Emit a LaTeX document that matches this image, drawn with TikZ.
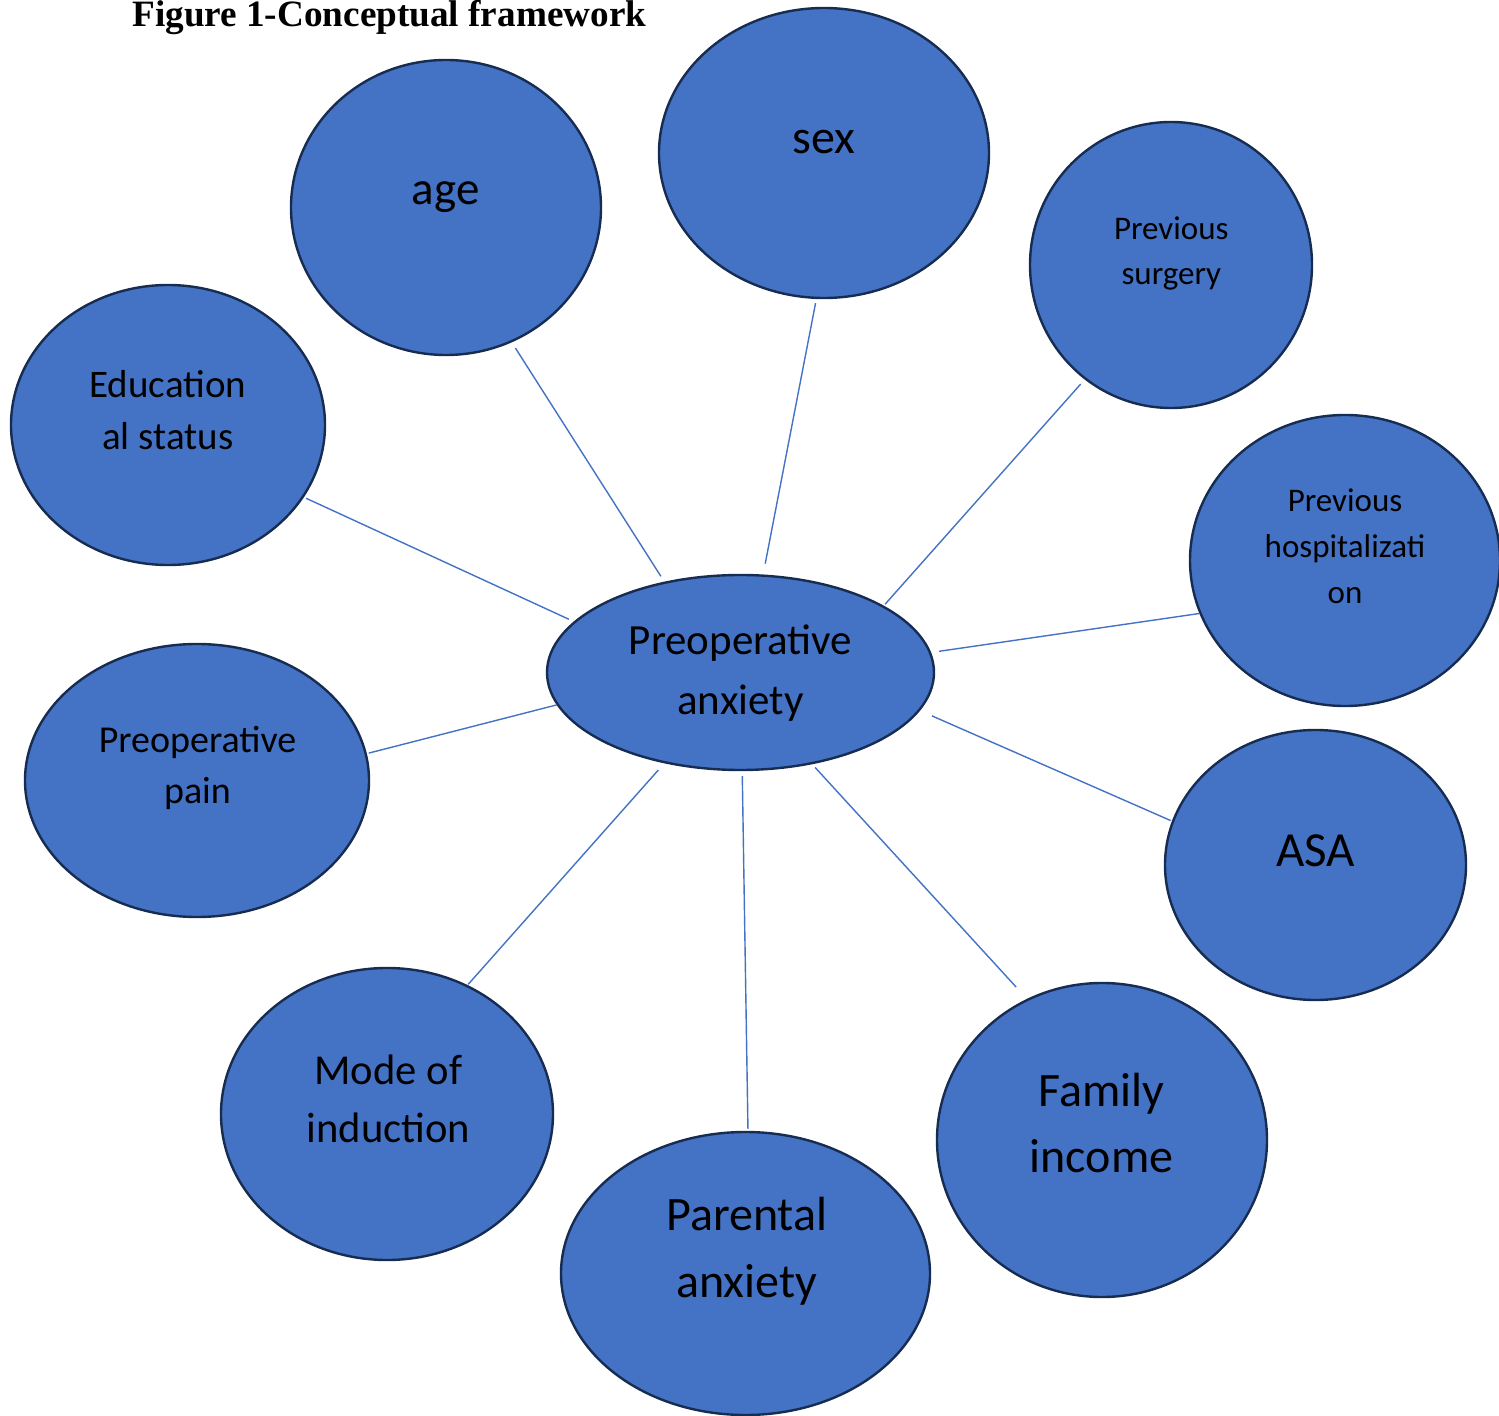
\documentclass[tikz,border=0pt]{standalone}
\usepackage{fontspec}
\setmainfont{Carlito}
\newfontfamily\titlefont{Liberation Serif}
\usetikzlibrary{shapes.geometric}
\definecolor{fillblue}{HTML}{4472C4}
\definecolor{edgeblue}{HTML}{172C51}
\definecolor{lineblue}{HTML}{4472C4}
\tikzset{
  bub/.style={ellipse, draw=edgeblue, fill=fillblue, line width=1.2pt, inner sep=0pt},
  conn/.style={draw=lineblue, line width=0.7pt},
  lbl/.style={anchor=base, inner sep=0pt, text=black},
}
\newcommand{\mylines}[3]{\fontsize{#1}{#2}\selectfont\begin{tabular}[t]{@{}c@{}}#3\end{tabular}}
\begin{document}
\begin{tikzpicture}[x=0.5pt,y=-0.5pt]
\clip (0,0) rectangle (1499,1416);
\fill[white] (0,0) rectangle (1499,1416);
% title
\node[anchor=base west, inner sep=0pt, font=\titlefont\bfseries\fontsize{18.6}{22}\selectfont] (title) at (132,27) {Figure 1-Conceptual framework};
% ellipses
\node[bub, minimum width=387pt/2, minimum height=195pt/2] (c) at (740.5,672.5) {};
\node[bub, minimum width=155pt, minimum height=147.5pt] (age) at (446,207.5) {};
\node[bub, minimum width=165pt, minimum height=145pt] (sex) at (824,153) {};
\node[bub, minimum width=141pt, minimum height=143pt] (surg) at (1171,265) {};
\node[bub, minimum width=155pt, minimum height=145.5pt] (hosp) at (1345,560.5) {};
\node[bub, minimum width=150.5pt, minimum height=135pt] (asa) at (1315.5,865) {};
\node[bub, minimum width=165pt, minimum height=157pt] (fam) at (1102,1140) {};
\node[bub, minimum width=184.5pt, minimum height=141.5pt] (par) at (745.5,1273.5) {};
\node[bub, minimum width=166pt, minimum height=146pt] (mode) at (387,1114) {};
\node[bub, minimum width=172pt, minimum height=136.5pt] (pain) at (197,780.5) {};
\node[bub, minimum width=157pt, minimum height=140pt] (edu) at (168,425) {};
% labels
\node[lbl] (t-c) at (740.5,655) {\mylines{21.5}{30}{Preoperative\\anxiety}};
\node[lbl] (t-age) at (445.8,205) {\mylines{23.5}{30}{age}};
\node[lbl] (t-sex) at (824.3,154) {\mylines{24}{30}{sex}};
\node[lbl] (t-surg) at (1171.3,240) {\mylines{16.5}{22.5}{Previous\\surgery}};
\node[lbl] (t-hosp) at (1345,511.7) {\mylines{16.5}{23}{Previous\\hospitalizati\\on}};
\node[lbl] (t-asa) at (1315.5,866) {\mylines{24.5}{30}{ASA}};
\node[lbl] (t-fam) at (1101.5,1106) {\mylines{24}{33}{Family\\income}};
\node[lbl] (t-par) at (746.7,1230) {\mylines{24}{33.5}{Parental\\anxiety}};
\node[lbl] (t-mode) at (388.3,1084) {\mylines{21.3}{29}{Mode of\\induction}};
\node[lbl] (t-pain) at (197.5,753) {\mylines{19}{25.5}{Preoperative\\pain}};
\node[lbl] (t-edu) at (167.8,397.3) {\mylines{19.5}{26}{Education\\al status}};
% connectors
\draw[conn, shorten <=3.4pt, shorten >=3.2pt] (age.-64.5) -- (c.130.4);
\draw[conn, shorten <=2.1pt, shorten >=5.5pt] (sex.-93.5) -- (c.77.2);
\draw[conn, shorten <=3pt, shorten >=1pt] (surg.-127.3) -- (c.25);
\draw[conn, shorten <=0pt, shorten >=4pt] (hosp.-160.3) -- (c.6);
\draw[conn, shorten <=0.7pt, shorten >=6.5pt] (asa.163.8) -- (c.-12.3);
\draw[conn, shorten <=8pt, shorten >=2.2pt] (fam.118.3) -- (c.-52.5);
\draw[conn, shorten <=2.5pt, shorten >=1pt] (c.-89.2) -- (par.89);
\draw[conn, shorten <=4.5pt, shorten >=0.5pt] (c.-130.2) -- (mode.58.2);
\draw[conn, shorten <=0pt, shorten >=1pt] (c.-170.3) -- (pain.9.84);
\draw[conn, shorten <=1.2pt, shorten >=2.7pt] (edu.-28.05) -- (c.163.7);
\end{tikzpicture}
\end{document}
